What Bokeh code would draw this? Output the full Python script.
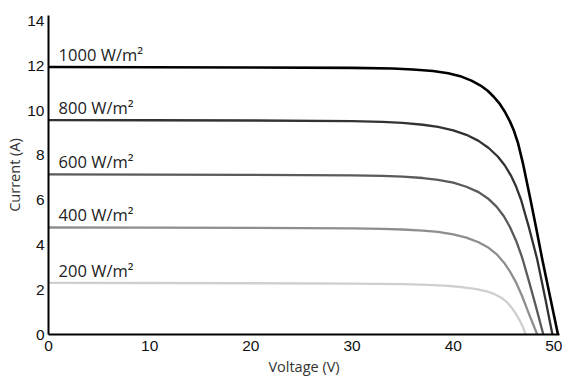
from bokeh.plotting import figure
from bokeh.models import Range1d, FixedTicker, ColumnDataSource
from bokeh.core.properties import value
from bokeh.embed import file_html
from bokeh.resources import INLINE

# ---- data ----
x_ticks = [0, 10, 20, 30, 40, 50]
y_ticks = [0, 2, 4, 6, 8, 10, 12, 14]

irradiance_labels = ["1000 W/m²", "800 W/m²", "600 W/m²", "400 W/m²", "200 W/m²"]

v_1000 = [0, 10, 20, 30, 34, 36, 38, 39.5, 40.8, 41.8, 42.7, 43.4, 44.0, 44.6, 45.1, 45.6, 46.0, 46.4, 46.9, 47.6, 48.2, 48.8, 49.6, 50.35]
i_1000 = [11.95, 11.94, 11.93, 11.91, 11.88, 11.84, 11.77, 11.67, 11.52, 11.34, 11.12, 10.89, 10.62, 10.30, 9.95, 9.52, 9.10, 8.55, 7.62, 6.10, 4.75, 3.35, 1.62, 0.0]

v_800 = [0, 10, 20, 30, 33, 35, 37, 38.5, 40, 41.3, 42.5, 43.5, 44.4, 45.1, 45.7, 46.2, 46.7, 47.5, 48.3, 49.1, 49.8]
i_800 = [9.58, 9.57, 9.56, 9.53, 9.50, 9.45, 9.37, 9.27, 9.12, 8.92, 8.65, 8.33, 7.95, 7.55, 7.10, 6.62, 6.02, 4.75, 3.35, 1.60, 0.0]

v_600 = [0, 10, 20, 30, 33, 35, 37, 38.5, 40, 41.3, 42.5, 43.5, 44.3, 45.0, 45.6, 46.2, 46.8, 47.5, 48.2, 48.9]
i_600 = [7.15, 7.14, 7.13, 7.11, 7.09, 7.05, 6.99, 6.91, 6.78, 6.60, 6.36, 6.05, 5.70, 5.28, 4.80, 4.20, 3.45, 2.35, 1.20, 0.0]

v_400 = [0, 10, 20, 30, 33, 35, 37, 38.5, 40, 41.3, 42.5, 43.5, 44.3, 45.0, 45.6, 46.2, 46.8, 47.5, 48.3]
i_400 = [4.78, 4.77, 4.76, 4.74, 4.72, 4.69, 4.64, 4.58, 4.47, 4.33, 4.12, 3.87, 3.58, 3.22, 2.82, 2.33, 1.72, 0.90, 0.0]

v_200 = [0, 10, 20, 30, 35, 37.5, 39.5, 41, 42.3, 43.3, 44.1, 44.8, 45.3, 45.8, 46.2, 46.6, 46.9, 47.15]
i_200 = [2.31, 2.30, 2.29, 2.27, 2.25, 2.22, 2.17, 2.11, 2.03, 1.93, 1.80, 1.63, 1.45, 1.18, 0.92, 0.60, 0.32, 0.0]

label_x = [1.0, 1.0, 1.0, 1.0, 1.0]

series = [
    (v_1000, i_1000, "#000000", 2.6),
    (v_800, i_800, "#333333", 2.3),
    (v_600, i_600, "#5a5a5a", 2.3),
    (v_400, i_400, "#8e8e8e", 2.3),
    (v_200, i_200, "#cfcfcf", 2.3),
]

p = figure(width=562, height=382,
           x_range=Range1d(0, 50.5), y_range=Range1d(0, 14.25),
           output_backend="svg", toolbar_location=None,
           min_border_left=48, min_border_right=3,
           min_border_top=15, min_border_bottom=48)
p.outline_line_color = None
p.grid.visible = False
p.background_fill_color = "white"
p.border_fill_color = "white"

for v, i, c, w in series:
    p.line(v, i, line_color=c, line_width=w, line_join="round", line_cap="round")

label_y = [s[1][0] for s in series]
src = ColumnDataSource(dict(x=label_x, y=label_y, t=irradiance_labels))
p.text(x="x", y="y", text="t", source=src, text_baseline="bottom",
       text_align="left", y_offset=-1,
       text_font=value("Open Sans"), text_font_size="16.5px", text_color="#222222")

for ax in (p.xaxis[0], p.yaxis[0]):
    ax.axis_line_color = "black"
    ax.axis_line_width = 2
    ax.major_tick_line_color = None
    ax.minor_tick_line_color = None
    ax.major_tick_out = 0
    ax.major_tick_in = 0
    ax.minor_tick_out = 0
    ax.minor_tick_in = 0
    ax.major_label_text_font = "Liberation Sans"
    ax.major_label_text_font_size = "15.5px"
    ax.major_label_text_color = "#111111"
    ax.axis_label_text_font = "Open Sans"
    ax.axis_label_text_font_size = "14.5px"
    ax.axis_label_text_font_style = "normal"
    ax.axis_label_text_color = "#333333"

p.xaxis.ticker = FixedTicker(ticks=x_ticks)
p.yaxis.ticker = FixedTicker(ticks=y_ticks)
p.xaxis.axis_label = "Voltage (V)"
p.yaxis.axis_label = "Current (A)"
p.xaxis.major_label_standoff = 6
p.xaxis.axis_label_standoff = 3
p.yaxis.major_label_standoff = 4
p.yaxis.axis_label_standoff = 0

open("out.html", "w").write(file_html(p, INLINE))
